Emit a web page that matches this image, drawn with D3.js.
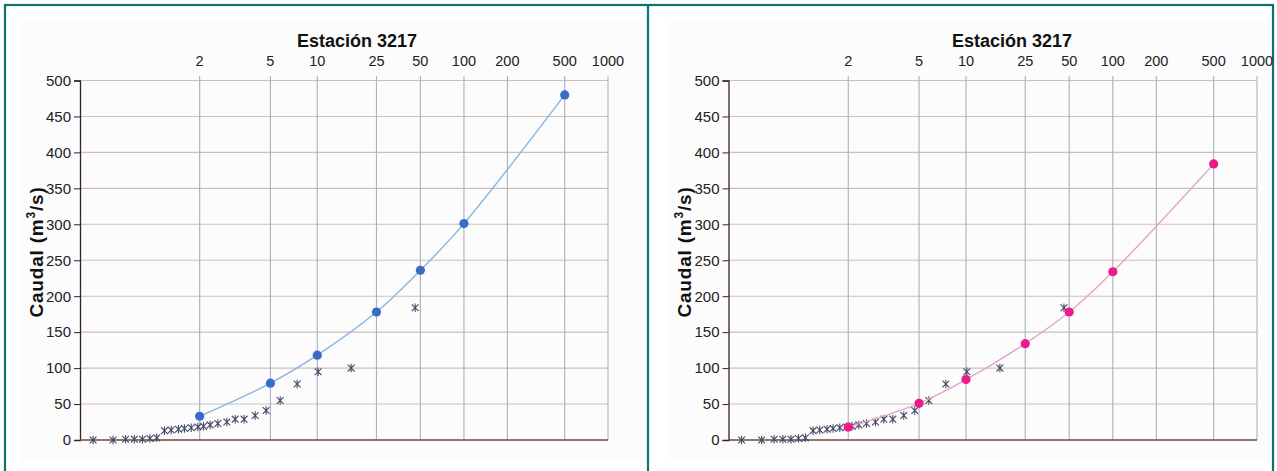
<!DOCTYPE html>
<html><head><meta charset="utf-8">
<script src="https://cdn.jsdelivr.net/npm/d3@7"></script>
<style>body{margin:0;background:#fff}svg{display:block}text{font-family:"Liberation Sans",Arial,sans-serif}</style>
</head><body><svg id="c" width="1277" height="471"></svg>
<script>
// ---- data ----
const titleText = "Estación 3217";
const returnPeriodTicks = [2, 5, 10, 25, 50, 100, 200, 500, 1000];
const flowTicks = [0, 50, 100, 150, 200, 250, 300, 350, 400, 450, 500];
const fitPeriods = [2, 5, 10, 25, 50, 100, 500];
const fitFlowLeft = [33, 79, 118, 178, 236, 301, 480];
const fitFlowRight = [18, 51, 84, 134, 178, 234, 384];
// observed floods: Gumbel reduced variate and flow (m3/s)
const obsVariate = [-1.34, -1.02, -0.82, -0.68, -0.55, -0.43, -0.32, -0.197, -0.09, 0.027, 0.123, 0.231, 0.338, 0.428, 0.535, 0.658, 0.802, 0.935, 1.079, 1.255, 1.431, 1.656, 1.928, 2.264, 2.793, 3.818];
const obsFlow = [0, 0, 1, 1, 1, 2, 3, 13, 14, 15, 16, 17, 18, 19, 21, 23, 25, 29, 29, 34, 41, 55, 78, 95, 100, 184];

const gumbel = T => -Math.log(-Math.log(1 - 1 / T));
const svg = d3.select("#c");

// frame
svg.append("rect").attr("x", 5).attr("y", 5).attr("width", 1268).attr("height", 480)
  .attr("fill", "none").attr("stroke", "#0b7272").attr("stroke-width", 2.2);
svg.append("line").attr("x1", 648).attr("x2", 648).attr("y1", 5).attr("y2", 471)
  .attr("stroke", "#0b7272").attr("stroke-width", 2.2);

function panel(o) {
  const g = svg.append("g");
  g.append("rect").attr("x", o.areaX0).attr("y", 22).attr("width", o.areaX1 - o.areaX0).attr("height", 440)
    .attr("fill", "#fcfcfd");
  const x = d3.scaleLinear().domain([-1.55, gumbel(1000)]).range([o.x0, o.x1]);
  const y = d3.scaleLinear().domain([0, 500]).range([440, 80.5]);

  // horizontal gridlines
  g.append("g").selectAll("line").data(flowTicks.filter(d => d > 0)).join("line")
    .attr("x1", o.x0).attr("x2", o.x1).attr("y1", d => y(d)).attr("y2", d => y(d))
    .attr("stroke", "#c9c0bc").attr("stroke-width", 1.1);
  // vertical gridlines
  g.append("g").selectAll("line").data(returnPeriodTicks).join("line")
    .attr("x1", d => x(gumbel(d))).attr("x2", d => x(gumbel(d))).attr("y1", 76).attr("y2", 440)
    .attr("stroke", "#a9b1bd").attr("stroke-width", 1.1);

  // top axis labels
  g.append("g").selectAll("text").data(returnPeriodTicks).join("text")
    .attr("x", d => x(gumbel(d))).attr("y", 66).attr("text-anchor", "middle")
    .attr("font-size", 14.5).attr("fill", "#222").text(d => d);

  // y axis
  const ya = d3.axisLeft(y).tickValues(flowTicks).tickSize(6).tickPadding(3);
  const yg = g.append("g").attr("transform", `translate(${o.x0},0)`).call(ya);
  yg.select(".domain").attr("stroke", "#3a2020").attr("stroke-width", 1.3);
  yg.selectAll(".tick line").attr("stroke", "#3a2020");
  yg.selectAll(".tick text").attr("font-size", 15).attr("fill", "#222")
    .attr("font-family", '"Liberation Sans",Arial,sans-serif');
  // x axis line at 0
  g.append("line").attr("x1", o.x0).attr("x2", o.x1).attr("y1", y(0)).attr("y2", y(0))
    .attr("stroke", "#6e4a40").attr("stroke-width", 1.6);

  // title
  g.append("text").attr("x", o.titleX).attr("y", 47).attr("text-anchor", "middle")
    .attr("font-size", 18).attr("font-weight", "bold").attr("fill", "#111").text(titleText);
  // y label
  const yl = g.append("text").attr("transform", `translate(${o.labelX},252) rotate(-90)`)
    .attr("text-anchor", "middle").attr("font-size", 19).attr("font-weight", "bold")
    .attr("letter-spacing", 0.8).attr("fill", "#111");
  yl.append("tspan").text("Caudal (m");
  yl.append("tspan").attr("dy", -8).attr("font-size", 12).text("3");
  yl.append("tspan").attr("dy", 8).text("/s)");

  // observed
  const s = 3.4;
  const star = `M${-s},${-s}L${s},${s}M${-s},${s}L${s},${-s}M0,${-s * 1.25}L0,${s * 1.25}`;
  g.append("g").selectAll("path").data(obsVariate.map((v, i) => [v, obsFlow[i]])).join("path")
    .attr("transform", d => `translate(${x(d[0])},${y(d[1])})`).attr("d", star)
    .attr("fill", "none").attr("stroke", "#444b66").attr("stroke-width", 1.1);

  // fitted curve
  const pts = fitPeriods.map((T, i) => [gumbel(T), o.fit[i]]);
  g.append("path").datum(pts)
    .attr("d", d3.line().x(d => x(d[0])).y(d => y(d[1])).curve(d3.curveCatmullRom.alpha(0.5)))
    .attr("fill", "none").attr("stroke", o.lineColor).attr("stroke-width", 1.4);
  g.append("g").selectAll("circle").data(pts).join("circle")
    .attr("cx", d => x(d[0])).attr("cy", d => y(d[1])).attr("r", 4.6).attr("fill", o.dotColor);
}

panel({areaX0: 20, areaX1: 643, x0: 80, x1: 608, titleX: 357, labelX: 43, fit: fitFlowLeft, lineColor: "#86b4e2", dotColor: "#3a6cc6"});
panel({areaX0: 666, areaX1: 1268, x0: 728.5, x1: 1257, titleX: 1012, labelX: 691, fit: fitFlowRight, lineColor: "#e2a6c6", dotColor: "#ee1a8a"});
</script></body></html>
